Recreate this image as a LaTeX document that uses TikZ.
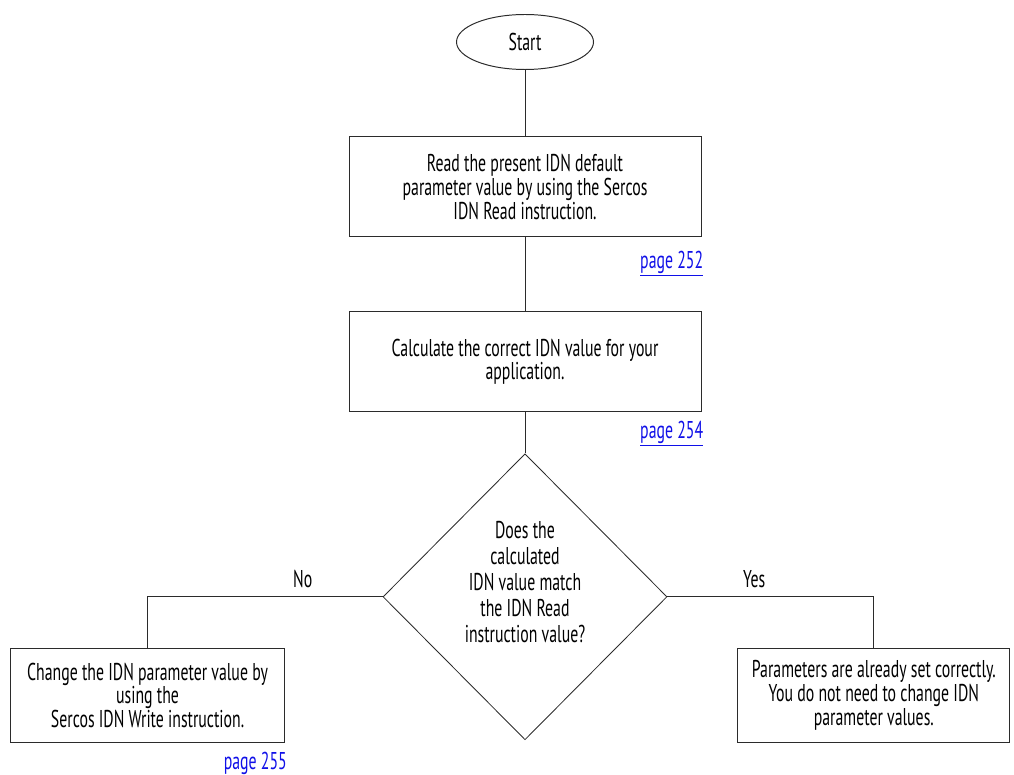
\documentclass[tikz,border=0pt]{standalone}
\usepackage{fontspec}
\setmainfont{PT Sans}[FakeStretch=0.65]
\usepackage{xcolor}
\usepackage{tikz}
\usetikzlibrary{positioning,shapes.geometric,calc}
\definecolor{linegray}{HTML}{2B2B2B}
\definecolor{linkblue}{HTML}{1010E8}

\begin{document}
\begin{tikzpicture}[
  every node/.style={font=\fontsize{17.3}{16.8}\selectfont, text=black},
  term/.style={ellipse, draw=linegray, line width=0.7pt, minimum width=34.25mm,
               minimum height=13.75mm, inner sep=0pt},
  proc/.style={rectangle, draw=linegray, line width=0.7pt, minimum width=88mm,
               minimum height=25mm, align=center},
  side/.style={rectangle, draw=linegray, line width=0.7pt, minimum width=68.5mm,
               minimum height=23.5mm, align=center, inner sep=1pt},
  dec/.style={diamond, draw=linegray, line width=0.6pt, minimum width=71mm,
              minimum height=71.5mm, inner sep=0pt, align=center,
              font=\fontsize{17.3}{18.6}\selectfont},
  link/.style={inner sep=0pt, text=linkblue, anchor=east},
  ln/.style={draw=linegray, line width=0.7pt}
]
  \useasboundingbox (0,0) rectangle (253.5mm,-193.75mm);

  \node[term] (st) at (131.25mm,-10.5mm) {Start};
  \node[proc,below=16.6mm of st] (rd) {Read the present IDN default\\parameter value by using the Sercos\\IDN Read instruction.};
  \node[proc,below=18.5mm of rd]  (cl) {Calculate the correct IDN value for your\\application.};
  \node[dec,below=10.25mm of cl]  (dc) {Does the\\calculated\\IDN value match\\the IDN Read\\instruction value?\\[1mm]};
  \node[side,anchor=north] (ch) at ($(dc.west)+(-58.75mm,-12.75mm)$)
       {Change the IDN parameter value by\\using the\\Sercos IDN Write instruction.};
  \node[side,anchor=north,minimum width=68mm] (ok) at ($(dc.east)+(51.6mm,-12.75mm)$)
       {Parameters are already set correctly.\\You do not need to change IDN\\parameter values.};

  \node[link] (p252) at ($(rd.south east)+(0.5mm,-6.5mm)$) {\underline{page 252}};
  \node[link] (p254) at ($(cl.south east)+(0.5mm,-5.25mm)$) {\underline{page 254}};
  \node[link] (p255) at ($(ch.south east)+(0.5mm,-5.5mm)$) {\underline{page 255}};

  \draw[ln] (st) -- (rd);
  \draw[ln] (rd) -- (cl);
  \draw[ln] (cl) -- (dc);
  \draw[ln] (dc.west) -| node[pos=0.17,above,yshift=3pt]{No} (ch.north);
  \draw[ln] (dc.east) -| node[pos=0.21,above,yshift=3pt]{Yes} (ok.north);
\end{tikzpicture}
\end{document}
